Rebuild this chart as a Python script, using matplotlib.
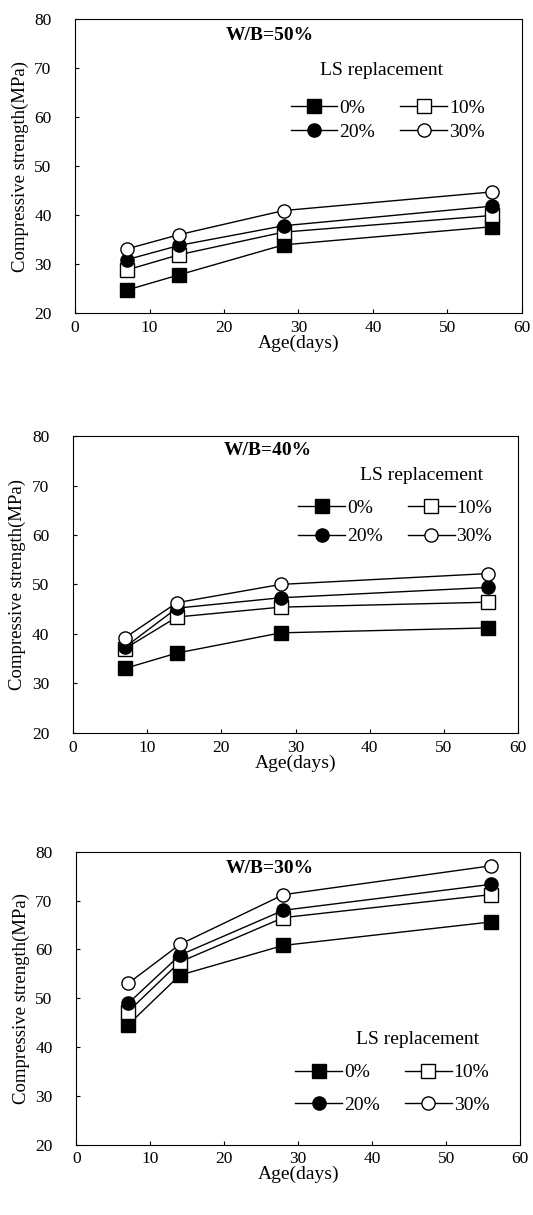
"""
Compressive strength development of LS-blended concrete at three W/B ratios.
"""

import matplotlib.pyplot as plt

plt.rcParams["font.family"] = ["Liberation Serif", "DejaVu Serif"]

AGE = [7, 14, 28, 56]
LS_LABELS = ["0%", "10%", "20%", "30%"]

# W/B = 50%
WB50_LS0 = [24.8, 27.9, 34.0, 37.7]
WB50_LS10 = [28.9, 32.0, 36.6, 40.0]
WB50_LS20 = [31.0, 33.9, 37.9, 41.9]
WB50_LS30 = [33.2, 36.1, 41.0, 44.8]

# W/B = 40%
WB40_LS0 = [33.0, 36.1, 40.2, 41.2]
WB40_LS10 = [37.0, 43.4, 45.4, 46.4]
WB40_LS20 = [37.3, 45.2, 47.3, 49.4]
WB40_LS30 = [39.2, 46.3, 50.0, 52.2]

# W/B = 30%
WB30_LS0 = [44.5, 54.7, 60.8, 65.6]
WB30_LS10 = [47.2, 57.4, 66.5, 71.2]
WB30_LS20 = [48.9, 58.8, 68.0, 73.3]
WB30_LS30 = [53.0, 61.0, 71.2, 77.1]

PANELS = [
    ("W/B=50%", [WB50_LS0, WB50_LS10, WB50_LS20, WB50_LS30]),
    ("W/B=40%", [WB40_LS0, WB40_LS10, WB40_LS20, WB40_LS30]),
    ("W/B=30%", [WB30_LS0, WB30_LS10, WB30_LS20, WB30_LS30]),
]

STYLES = [
    dict(marker="s", mfc="black", mec="black"),
    dict(marker="s", mfc="white", mec="black"),
    dict(marker="o", mfc="black", mec="black"),
    dict(marker="o", mfc="white", mec="black"),
]

# axes boxes in figure fractions [left, bottom, width, height]
BOXES = [
    [0.141, 0.742, 0.838, 0.242],
    [0.137, 0.397, 0.835, 0.244],
    [0.143, 0.058, 0.833, 0.241],
]
# per-panel placement (axes fractions)
WB_POS = [(0.436, 0.946), (0.438, 0.953), (0.437, 0.942)]
LEG_TITLE_POS = [(0.687, 0.827), (0.784, 0.868), (0.768, 0.358)]
LEG_CENTER = [(0.70, 0.658), (0.724, 0.709), (0.712, 0.191)]
LEG_SPACING = [0.3, 0.55, 0.75]

fig = plt.figure(figsize=(5.33, 12.15), dpi=100)

for i, (title, series) in enumerate(PANELS):
    ax = fig.add_axes(BOXES[i])
    for vals, lab, st in zip(series, LS_LABELS, STYLES):
        ax.plot(AGE, vals, color="black", lw=1.0, ms=9.5, mew=1.0,
                label=lab, **st)

    ax.set_xlim(0, 60)
    ax.set_ylim(20, 80)
    ax.set_xticks(range(0, 61, 10))
    ax.set_yticks(range(20, 81, 10))
    ax.tick_params(direction="in", length=3, width=0.8, labelsize=12.5,
                   top=False, right=False)
    ax.tick_params(axis="x", pad=5)
    ax.tick_params(axis="y", pad=17)
    for sp in ax.spines.values():
        sp.set_linewidth(0.8)
        sp.set_linestyle((0, (4, 1)))

    ax.set_xlabel("Age(days)", fontsize=14, labelpad=-1)
    ax.set_ylabel("Compressive strength(MPa)", fontsize=13.5, labelpad=4)

    ax.text(*WB_POS[i], title, transform=ax.transAxes,
            fontsize=14, fontweight="bold", ha="center", va="center")
    ax.text(*LEG_TITLE_POS[i], "LS replacement", transform=ax.transAxes,
            fontsize=14, ha="center", va="center")

    # rows: 0%,10% / 20%,30% -> matplotlib fills legend column by column
    h, l = ax.get_legend_handles_labels()
    order = [0, 2, 1, 3]
    ax.legend([h[k] for k in order], [l[k] for k in order], ncol=2,
              frameon=False, fontsize=14, handlelength=2.4,
              handletextpad=0.1, columnspacing=1.3,
              labelspacing=LEG_SPACING[i], borderpad=0,
              loc="center", bbox_to_anchor=LEG_CENTER[i])

fig.savefig("out.png", dpi=100)
